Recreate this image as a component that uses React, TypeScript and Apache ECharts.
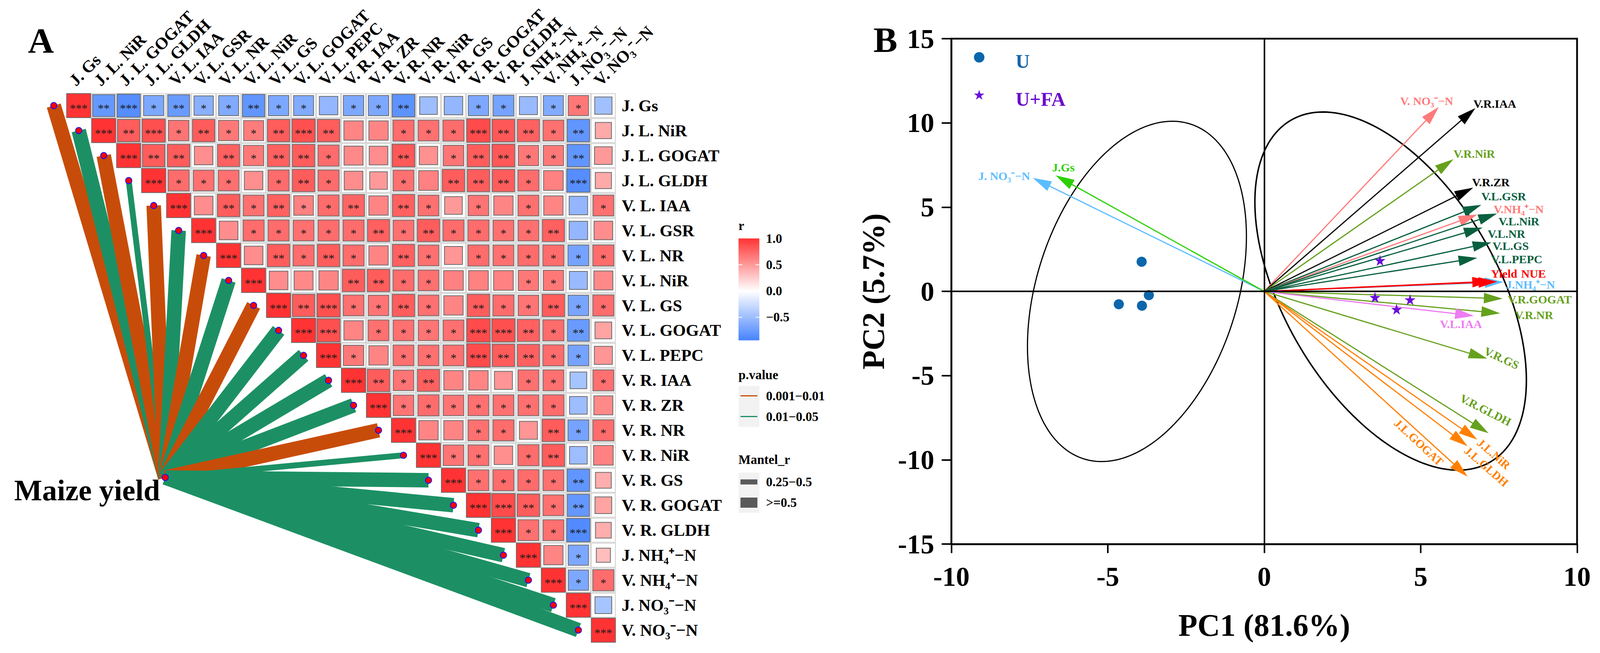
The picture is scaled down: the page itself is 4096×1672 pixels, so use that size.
import React, { useEffect, useRef } from 'react';
import * as echarts from 'echarts';

const SERIF = "'Liberation Serif', 'Times New Roman', Times, serif";

// ---------------- Panel A data ----------------
const VARS = [
  'J. Gs', 'J. L. NiR', 'J. L. GOGAT', 'J. L. GLDH', 'V. L. IAA', 'V. L. GSR', 'V. L. NR', 'V. L. NiR',
  'V. L. GS', 'V. L. GOGAT', 'V. L. PEPC', 'V. R. IAA', 'V. R. ZR', 'V. R. NR', 'V. R. NiR', 'V. R. GS',
  'V. R. GOGAT', 'V. R. GLDH', 'J. NH₄⁺−N', 'V. NH₄⁺−N', 'J. NO₃⁻−N', 'V. NO₃⁻−N',
];

// Pearson r of each row, from its diagonal cell to the last column
const CORR_R: number[][] = [
  [1, -0.78, -0.86, -0.66, -0.76, -0.6, -0.64, -0.8, -0.66, -0.64, -0.55, -0.66, -0.66, -0.82, -0.5, -0.55, -0.66, -0.7, -0.52, -0.64, 0.66, -0.48],
  [1, 0.8, 0.86, 0.68, 0.8, 0.66, 0.64, 0.8, 0.86, 0.8, 0.6, 0.6, 0.72, 0.7, 0.72, 0.88, 0.82, 0.78, 0.7, -0.8, 0.42],
  [1, 0.8, 0.8, 0.55, 0.78, 0.66, 0.78, 0.8, 0.72, 0.58, 0.56, 0.82, 0.54, 0.68, 0.8, 0.82, 0.66, 0.66, -0.8, 0.5],
  [1, 0.72, 0.7, 0.7, 0.55, 0.72, 0.8, 0.72, 0.56, 0.5, 0.7, 0.62, 0.8, 0.8, 0.8, 0.72, 0.62, -0.86, 0.42],
  [1, 0.56, 0.8, 0.7, 0.78, 0.62, 0.72, 0.76, 0.6, 0.78, 0.7, 0.5, 0.68, 0.6, 0.7, 0.6, -0.55, 0.7],
  [1, 0.56, 0.72, 0.72, 0.7, 0.72, 0.72, 0.78, 0.7, 0.8, 0.72, 0.72, 0.7, 0.7, 0.78, -0.55, 0.56],
  [1, 0.56, 0.8, 0.72, 0.8, 0.72, 0.6, 0.78, 0.7, 0.52, 0.72, 0.7, 0.72, 0.72, -0.7, 0.72],
  [1, 0.56, 0.58, 0.6, 0.8, 0.8, 0.72, 0.7, 0.62, 0.62, 0.62, 0.66, 0.66, -0.52, 0.58],
  [1, 0.8, 0.86, 0.7, 0.68, 0.8, 0.7, 0.6, 0.8, 0.72, 0.68, 0.8, -0.68, 0.72],
  [1, 0.86, 0.6, 0.7, 0.7, 0.68, 0.7, 0.88, 0.86, 0.78, 0.72, -0.76, 0.45],
  [1, 0.66, 0.6, 0.7, 0.7, 0.7, 0.88, 0.8, 0.78, 0.72, -0.7, 0.52],
  [1, 0.8, 0.68, 0.78, 0.6, 0.6, 0.52, 0.7, 0.7, -0.45, 0.7],
  [1, 0.68, 0.72, 0.68, 0.7, 0.7, 0.7, 0.72, -0.5, 0.58],
  [1, 0.6, 0.6, 0.7, 0.72, 0.52, 0.8, -0.7, 0.72],
  [1, 0.68, 0.7, 0.55, 0.72, 0.8, -0.5, 0.62],
  [1, 0.7, 0.72, 0.72, 0.7, -0.8, 0.4],
  [1, 0.88, 0.8, 0.7, -0.78, 0.45],
  [1, 0.7, 0.7, -0.88, 0.4],
  [1, 0.6, -0.66, 0.32],
  [1, -0.66, 0.72],
  [1, -0.45],
  [1],
];

// number of significance stars, same layout as CORR_R
const CORR_STARS: number[][] = [
  [3, 2, 3, 1, 2, 1, 1, 2, 1, 1, 0, 1, 1, 2, 0, 0, 1, 1, 0, 1, 1, 0],
  [3, 2, 3, 1, 2, 1, 1, 2, 3, 2, 0, 0, 1, 1, 1, 3, 2, 2, 1, 2, 0],
  [3, 2, 2, 0, 2, 1, 2, 2, 1, 0, 0, 2, 0, 1, 2, 2, 1, 1, 2, 0],
  [3, 1, 1, 1, 0, 1, 2, 1, 0, 0, 1, 0, 2, 2, 2, 1, 0, 3, 0],
  [3, 0, 2, 1, 2, 1, 1, 2, 0, 2, 1, 0, 1, 0, 1, 0, 0, 1],
  [3, 0, 1, 1, 1, 1, 1, 2, 1, 2, 1, 1, 1, 1, 2, 0, 0],
  [3, 0, 2, 1, 2, 1, 0, 2, 1, 0, 1, 1, 1, 1, 1, 1],
  [3, 0, 0, 0, 2, 2, 1, 1, 0, 0, 0, 1, 1, 0, 0],
  [3, 2, 3, 1, 1, 2, 1, 0, 2, 1, 1, 2, 1, 1],
  [3, 3, 0, 1, 1, 1, 1, 3, 3, 2, 1, 2, 0],
  [3, 1, 0, 1, 1, 1, 3, 2, 2, 1, 1, 0],
  [3, 2, 1, 2, 0, 0, 0, 1, 1, 0, 1],
  [3, 1, 1, 1, 1, 1, 1, 1, 0, 0],
  [3, 0, 0, 1, 1, 0, 2, 1, 1],
  [3, 1, 1, 0, 1, 2, 0, 0],
  [3, 1, 1, 1, 1, 2, 0],
  [3, 3, 2, 1, 2, 0],
  [3, 1, 1, 3, 0],
  [3, 0, 1, 0],
  [3, 1, 1],
  [3, 0],
  [3],
];

// Mantel test of maize yield against each variable
const P_LEVELS = ['0.001−0.01', '0.01−0.05'];
const SIZE_LEVELS = ['0.25−0.5', '>=0.5'];
const MANTEL_P = [
  '0.001−0.01', '0.01−0.05', '0.001−0.01', '0.01−0.05', '0.001−0.01', '0.01−0.05', '0.001−0.01', '0.01−0.05',
  '0.001−0.01', '0.01−0.05', '0.01−0.05', '0.01−0.05', '0.01−0.05', '0.001−0.01', '0.01−0.05', '0.01−0.05',
  '0.01−0.05', '0.01−0.05', '0.01−0.05', '0.01−0.05', '0.01−0.05', '0.01−0.05',
];
const MANTEL_SIZE = [
  '>=0.5', '>=0.5', '>=0.5', '0.25−0.5', '>=0.5', '>=0.5', '>=0.5', '>=0.5',
  '>=0.5', '>=0.5', '>=0.5', '>=0.5', '>=0.5', '>=0.5', '0.25−0.5', '>=0.5',
  '>=0.5', '>=0.5', '>=0.5', '>=0.5', '>=0.5', '>=0.5',
];
const R_TICKS = [1.0, 0.5, 0.0, -0.5];
const R_TICK_LABELS = ['1.0', '0.5', '0.0', '−0.5'];

// ---------------- Panel B data ----------------
const GROUPS = ['U', 'U+FA'];
const U_PC1 = [-3.92, -4.65, -3.91, -3.69];
const U_PC2 = [1.76, -0.76, -0.85, -0.22];
const UFA_PC1 = [3.7, 3.54, 4.66, 4.23];
const UFA_PC2 = [1.84, -0.35, -0.49, -1.06];

const LOAD_NAMES = [
  'J. NO₃⁻−N', 'J.Gs', 'V. NO₃⁻−N', 'V.R.IAA', 'V.R.NiR', 'V.R.ZR', 'V.L.GSR', 'V.NH₄⁺−N',
  'V.L.NiR', 'V.L.NR', 'V.L.GS', 'V.L.PEPC', 'J.NH₄⁺−N', 'Yield', 'NUE', 'V.R.GOGAT',
  'V.R.NR', 'V.L.IAA', 'V.R.GS', 'V.R.GLDH', 'J.L.NiR', 'J.L.GLDH', 'J.L.GOGAT',
];
const LOAD_PC1 = [-7.4, -6.67, 5.58, 6.75, 6.05, 6.68, 6.94, 6.81, 7.44, 6.98, 7.26, 6.81, 7.65, 7.25, 7.45, 7.62, 7.54, 6.7, 7.13, 7.17, 6.81, 6.5, 6.5];
const LOAD_PC2 = [6.74, 6.89, 10.95, 10.88, 7.85, 6.16, 5.14, 4.56, 4.62, 3.79, 2.9, 1.99, 0.56, 0.6, 0.58, -0.43, -1.3, -1.45, -3.99, -8.42, -8.8, -9.19, -10.99];

// confidence ellipses: centre (x, y), then x = cx + a1 cos t + b1 sin t, y = cy + a2 cos t + b2 sin t
const ELLIPSE_CENTER = [[-4.07, 0.0], [4.04, 0.02]];
const ELLIPSE_AXES = [[3.5, 3.26, 0, 9.56], [4.34, -5.29, 0, 9.22]];

// ---------------- styles / layout ----------------
const P_COLORS = ['#C84C09', '#1C9064'];
const SIZE_WIDTHS = [15, 37];
const GROUP_COLORS = ['#0B66AC', '#6A0DD8'];
const GROUP_TEXT_COLORS = ['#1565A8', '#6A0DD0'];
const LOAD_COLORS = [
  '#5BBDFF', '#2BD000', '#FF7A7A', '#000000', '#66A11E', '#000000', '#08603F', '#FF7A7A',
  '#08603F', '#08603F', '#08603F', '#08603F', '#5BBDFF', '#FF0000', '#FF0000', '#66A11E',
  '#66A11E', '#EE7CF2', '#66A11E', '#66A11E', '#FF8000', '#FF8000', '#FF8000',
];
const LOAD_LABEL_LAYOUT: { dx: number; dy: number; align: string; rot?: number }[] = [
  { dx: -7, dy: -5, align: 'right' },
  { dx: -9, dy: -20, align: 'left' },
  { dx: -31, dy: -15, align: 'center' },
  { dx: -5, dy: -11, align: 'left' },
  { dx: 0, dy: -14.5, align: 'left' },
  { dx: -3, dy: -14, align: 'left' },
  { dx: 0, dy: -22, align: 'left' },
  { dx: 42, dy: -13.5, align: 'left' },
  { dx: 4, dy: 19.6, align: 'left' },
  { dx: 13, dy: 16, align: 'left' },
  { dx: 3, dy: 8.5, align: 'left' },
  { dx: 35.5, dy: 3, align: 'left' },
  { dx: 6.5, dy: 6.5, align: 'left' },
  { dx: 0, dy: -19.6, align: 'left' },
  { dx: 61, dy: -20.6, align: 'left' },
  { dx: 13, dy: 2.3, align: 'left' },
  { dx: 38, dy: 4.7, align: 'left' },
  { dx: -33, dy: 20.6, align: 'center' },
  { dx: -6, dy: -21.5, align: 'left', rot: -25 },
  { dx: -71, dy: -92, align: 'left', rot: -27 },
  { dx: 4, dy: 3, align: 'left', rot: -41 },
  { dx: -4, dy: 6.5, align: 'left', rot: -41 },
  { dx: -183, dy: -142, align: 'left', rot: -43 },
];

const A_GRID = { left: 169.6, top: 238.4, width: 1407, height: 1407 };
const B_GRID = { left: 2435.7, top: 99.1, width: 1601.6, height: 1294.1 };
const MANTEL_NODE = [3.46, 14.89];
const STAR_D = 'M50,0 L61.2,34.5 L97.6,34.5 L68.2,55.9 L79.4,90.5 L50,69.1 L20.6,90.5 L31.8,55.9 L2.4,34.5 L38.8,34.5 Z';
const STAR = 'path://' + STAR_D;
const HEAD_LEN = 48;
const HEAD_W = 27;
const LABEL_SIZE = 43;

echarts.graphic.registerShape('star5', echarts.graphic.extendPath(STAR_D, {}) as any);

const txt = (text: string, x: number, y: number, size: number, extra: any = {}) => ({
  type: 'text',
  x,
  y,
  silent: true,
  style: {
    text,
    fill: extra.fill || '#000',
    fontSize: size,
    fontFamily: SERIF,
    fontWeight: extra.weight || 'bold',
    align: extra.align || 'left',
    verticalAlign: 'middle',
  },
});

function buildOption() {
  const cellData: number[][] = [];
  CORR_R.forEach((row, i) => row.forEach((v, k) => cellData.push([i + k, i, v, CORR_STARS[i][k]])));
  const linkData = MANTEL_P.map((p, i) => [i - 1, i, P_LEVELS.indexOf(p), SIZE_LEVELS.indexOf(MANTEL_SIZE[i])]);
  const dotData = [...VARS.map((_, i) => [i - 1, i]), MANTEL_NODE];
  const colLabelData = VARS.map((_, i) => [i, -0.5]);

  // colour-bar legend
  const LEG_X = 1890.6;
  const LEG_W = 53.3;
  const LEG_TXT_X = 1961;
  const CB_TOP = 610.6;
  const CB_H = 261;
  const CB_MIN = -0.94;
  const CB_MAX = 1;
  const cbY = (v: number) => CB_TOP + ((CB_MAX - v) / (CB_MAX - CB_MIN)) * CB_H;
  const zeroOff = (CB_MAX - 0) / (CB_MAX - CB_MIN);

  const graphics: any[] = [
    txt('A', 71.5, 104, 92),
    txt('B', 2236, 102, 92),
    txt('r', LEG_X, 578, 33),
    {
      type: 'rect',
      silent: true,
      shape: { x: LEG_X, y: CB_TOP, width: LEG_W, height: CB_H },
      style: {
        fill: new echarts.graphic.LinearGradient(0, 0, 0, 1, [
          { offset: 0, color: '#FF3333' },
          { offset: zeroOff, color: '#FFFFFF' },
          { offset: 1, color: '#4683FF' },
        ]),
      },
    },
  ];
  R_TICKS.forEach((v, i) => {
    const y = cbY(v);
    graphics.push(txt(R_TICK_LABELS[i], LEG_TXT_X, y, 33));
    if (i > 0) {
      graphics.push({ type: 'line', silent: true, shape: { x1: LEG_X, y1: y, x2: LEG_X + 10, y2: y }, style: { stroke: '#fff', lineWidth: 2 } });
      graphics.push({ type: 'line', silent: true, shape: { x1: LEG_X + LEG_W - 10, y1: y, x2: LEG_X + LEG_W, y2: y }, style: { stroke: '#fff', lineWidth: 2 } });
    }
  });
  graphics.push(txt('p.value', LEG_X, 960, 33));
  graphics.push({ type: 'rect', silent: true, shape: { x: LEG_X, y: 988, width: LEG_W, height: 105 }, style: { fill: '#F2F2F2' } });
  P_LEVELS.forEach((p, i) => {
    const y = 1013.5 + i * 53.1;
    graphics.push({ type: 'line', silent: true, shape: { x1: LEG_X + 5, y1: y, x2: LEG_X + LEG_W - 5, y2: y }, style: { stroke: P_COLORS[i], lineWidth: 3 } });
    graphics.push(txt(p, LEG_TXT_X, y, 33));
  });
  graphics.push(txt('Mantel_r', LEG_X, 1177, 33));
  graphics.push({ type: 'rect', silent: true, shape: { x: LEG_X, y: 1210, width: LEG_W, height: 103 }, style: { fill: '#F2F2F2' } });
  SIZE_LEVELS.forEach((s, i) => {
    const y = 1234 + i * 53;
    const h = i === 0 ? 13 : 26;
    graphics.push({ type: 'rect', silent: true, shape: { x: LEG_X + 5, y: y - h / 2, width: LEG_W - 10, height: h }, style: { fill: '#595959' } });
    graphics.push(txt(s, LEG_TXT_X, y, 33));
  });

  // group legend of panel B
  const GL_X = 2506.7;
  const GL_Y = [146.8, 244];
  const GL_TXT_X = 2600;
  graphics.push({ type: 'circle', silent: true, shape: { cx: GL_X, cy: GL_Y[0], r: 13.5 }, style: { fill: GROUP_COLORS[0] } });
  graphics.push({ type: 'star5', silent: true, x: GL_X - 14, y: GL_Y[1] - 14, scaleX: 0.28, scaleY: 0.28, style: { fill: GROUP_COLORS[1] } });
  GROUPS.forEach((g, i) => graphics.push(txt(g, GL_TXT_X, GL_Y[i] + 10, 50, { fill: GROUP_TEXT_COLORS[i] })));

  const axisFont = { fontFamily: SERIF, fontWeight: 'bold', color: '#000' };

  return {
    animation: false,
    backgroundColor: '#ffffff',
    grid: [
      { ...A_GRID, containLabel: false, outerBoundsMode: 'none' },
      { ...A_GRID, containLabel: false, outerBoundsMode: 'none' },
      { ...B_GRID, containLabel: false, outerBoundsMode: 'none', show: true, borderColor: '#000', borderWidth: 4.5, backgroundColor: 'transparent' },
    ],
    xAxis: [
      {
        type: 'category', gridIndex: 0, data: VARS, position: 'top',
        axisLine: { show: false }, axisTick: { show: false }, splitLine: { show: false }, axisLabel: { show: false },
      },
      { type: 'value', gridIndex: 1, min: -0.5, max: 21.5, show: false },
      {
        type: 'value', gridIndex: 2, min: -10, max: 10, interval: 5,
        axisLine: { show: true, onZero: false, lineStyle: { color: '#000', width: 4.5 } },
        axisTick: { show: true, inside: false, length: 23, lineStyle: { color: '#000', width: 4 } },
        axisLabel: { ...axisFont, fontSize: 70, margin: 48 },
        splitLine: { show: false },
        name: 'PC1 (81.6%)', nameLocation: 'middle', nameGap: 168,
        nameTextStyle: { ...axisFont, fontSize: 80 },
      },
    ],
    yAxis: [
      {
        type: 'category', gridIndex: 0, data: VARS, inverse: true, position: 'right',
        axisLine: { show: false }, axisTick: { show: false }, splitLine: { show: false },
        axisLabel: { ...axisFont, fontSize: LABEL_SIZE, interval: 0, margin: 15, align: 'left' },
      },
      { type: 'value', gridIndex: 1, min: -0.5, max: 21.5, inverse: true, show: false },
      {
        type: 'value', gridIndex: 2, min: -15, max: 15, interval: 5,
        axisLine: { show: true, onZero: false, lineStyle: { color: '#000', width: 4.5 } },
        axisTick: { show: true, inside: false, length: 25, lineStyle: { color: '#000', width: 4 } },
        axisLabel: { ...axisFont, fontSize: 70, margin: 44 },
        splitLine: { show: false },
        name: 'PC2 (5.7%)', nameLocation: 'middle', nameGap: 160,
        nameTextStyle: { ...axisFont, fontSize: 80 },
      },
    ],
    visualMap: {
      type: 'continuous', show: false, min: -1, max: 1, dimension: 2, seriesIndex: 1,
      inRange: { color: ['#3A7BFF', '#FFFFFF', '#FF3333'] },
    },
    graphic: { elements: graphics },
    series: [
      {
        type: 'custom', name: 'mantel', xAxisIndex: 1, yAxisIndex: 1, z: 1, silent: true, clip: false,
        data: linkData,
        renderItem: (params: any, api: any) => {
          const s = api.coord(MANTEL_NODE);
          const e = api.coord([api.value(0), api.value(1)]);
          return {
            type: 'line',
            shape: { x1: s[0], y1: s[1], x2: e[0], y2: e[1] },
            style: { stroke: P_COLORS[api.value(2)], lineWidth: SIZE_WIDTHS[api.value(3)], lineCap: 'butt' },
          };
        },
      },
      {
        type: 'custom', name: 'corr', xAxisIndex: 1, yAxisIndex: 1, z: 2, silent: true, clip: false,
        data: cellData,
        renderItem: (params: any, api: any) => {
          const c = api.value(0);
          const r = api.value(1);
          const v = api.value(2);
          const n = api.value(3);
          const p = api.coord([c, r]);
          const sz = api.size([1, 1]);
          const w = sz[0];
          const h = sz[1];
          const f = Math.sqrt(Math.abs(v));
          const children: any[] = [];
          if (c !== r) {
            children.push({
              type: 'rect',
              shape: { x: p[0] - w / 2 + 1.2, y: p[1] - h / 2 + 1.2, width: w - 2.4, height: h - 2.4 },
              style: { fill: '#FFFFFF', stroke: '#D6D6D6', lineWidth: 2.4 },
            });
          }
          const sw = w * f - (c === r ? 2 : 0);
          const sh = h * f - (c === r ? 2 : 0);
          children.push({
            type: 'rect',
            shape: { x: p[0] - sw / 2, y: p[1] - sh / 2, width: sw, height: sh },
            style: { fill: api.visual('color'), stroke: '#6B6B6B', lineWidth: 2 },
          });
          if (n > 0) {
            children.push({
              type: 'text', x: p[0], y: p[1] + 6,
              style: { text: '*'.repeat(n), fill: '#1A1A1A', fontSize: 30, fontFamily: SERIF, align: 'center', verticalAlign: 'middle' },
            });
          }
          return { type: 'group', children };
        },
      },
      {
        type: 'custom', name: 'columns', xAxisIndex: 1, yAxisIndex: 1, z: 2, silent: true, clip: false,
        data: colLabelData,
        renderItem: (params: any, api: any) => {
          const p = api.coord([api.value(0), api.value(1)]);
          return {
            type: 'text', x: p[0] - 2, y: p[1] - 11, rotation: Math.PI / 4,
            style: { text: VARS[params.dataIndex], fill: '#000', fontSize: LABEL_SIZE, fontFamily: SERIF, fontWeight: 'bold', align: 'left', verticalAlign: 'bottom' },
          };
        },
      },
      {
        type: 'scatter', name: 'dots', xAxisIndex: 1, yAxisIndex: 1, z: 3, silent: true, clip: false,
        data: dotData, symbol: 'circle', symbolSize: 16,
        itemStyle: { color: '#FF0000', borderColor: '#1010FF', borderWidth: 2, opacity: 1 },
      },
      {
        type: 'custom', name: 'node', xAxisIndex: 1, yAxisIndex: 1, z: 3, silent: true, clip: false,
        data: [MANTEL_NODE],
        renderItem: (params: any, api: any) => {
          const p = api.coord([api.value(0), api.value(1)]);
          return {
            type: 'text', x: p[0] - 13, y: p[1] + 32,
            style: { text: 'Maize yield', fill: '#000', fontSize: 76, fontFamily: SERIF, fontWeight: 'bold', align: 'right', verticalAlign: 'middle' },
          };
        },
      },
      {
        type: 'custom', name: 'ellipse', xAxisIndex: 2, yAxisIndex: 2, z: 2, silent: true, clip: false,
        data: ELLIPSE_CENTER.map((c, i) => [c[0], c[1], i]),
        renderItem: (params: any, api: any) => {
          const i = api.value(2);
          const cx = api.value(0);
          const cy = api.value(1);
          const [a1, a2, b1, b2] = ELLIPSE_AXES[i];
          const pts: number[][] = [];
          for (let k = 0; k <= 180; k++) {
            const t = (k / 180) * Math.PI * 2;
            pts.push(api.coord([cx + a1 * Math.cos(t) + b1 * Math.sin(t), cy + a2 * Math.cos(t) + b2 * Math.sin(t)]));
          }
          return { type: 'polyline', shape: { points: pts }, style: { stroke: '#000', lineWidth: i === 0 ? 3 : 3.8, fill: 'none' } };
        },
      },
      {
        type: 'custom', name: 'loadings', xAxisIndex: 2, yAxisIndex: 2, z: 3, silent: true, clip: false,
        data: LOAD_PC1.map((x, i) => [x, LOAD_PC2[i]]),
        renderItem: (params: any, api: any) => {
          const i = params.dataIndex;
          const o = api.coord([0, 0]);
          const t = api.coord([api.value(0), api.value(1)]);
          const dx = t[0] - o[0];
          const dy = t[1] - o[1];
          const len = Math.hypot(dx, dy);
          const ux = dx / len;
          const uy = dy / len;
          const bx = t[0] - ux * HEAD_LEN;
          const by = t[1] - uy * HEAD_LEN;
          const hw = HEAD_W / 2;
          const color = LOAD_COLORS[i];
          const lay = LOAD_LABEL_LAYOUT[i];
          return {
            type: 'group',
            children: [
              { type: 'line', shape: { x1: o[0], y1: o[1], x2: bx + ux * 4, y2: by + uy * 4 }, style: { stroke: color, lineWidth: 3 } },
              { type: 'polygon', shape: { points: [[t[0], t[1]], [bx - uy * hw, by + ux * hw], [bx + uy * hw, by - ux * hw]] }, style: { fill: color } },
              {
                type: 'text', x: t[0] + lay.dx, y: t[1] + lay.dy, rotation: ((lay.rot || 0) * Math.PI) / 180,
                style: { text: LOAD_NAMES[i], fill: color, fontSize: 30, fontFamily: SERIF, fontWeight: 'bold', align: lay.align, verticalAlign: 'middle' },
              },
            ],
          };
        },
      },
      {
        type: 'scatter', name: GROUPS[0], xAxisIndex: 2, yAxisIndex: 2, z: 4, silent: true,
        data: U_PC1.map((x, i) => [x, U_PC2[i]]), symbol: 'circle', symbolSize: 26,
        itemStyle: { color: GROUP_COLORS[0], opacity: 1 },
        markLine: {
          silent: true, symbol: ['none', 'none'], label: { show: false },
          lineStyle: { color: '#000', width: 4, type: 'solid' },
          data: [{ xAxis: 0 }, { yAxis: 0 }],
        },
      },
      {
        type: 'scatter', name: GROUPS[1], xAxisIndex: 2, yAxisIndex: 2, z: 4, silent: true,
        data: UFA_PC1.map((x, i) => [x, UFA_PC2[i]]), symbol: STAR, symbolSize: 28,
        itemStyle: { color: GROUP_COLORS[1], opacity: 1 },
      },
    ],
  };
}

export default function App() {
  const ref = useRef<HTMLDivElement>(null);
  useEffect(() => {
    const chart = echarts.init(ref.current as HTMLDivElement, null, { renderer: 'svg' });
    chart.setOption(buildOption() as any);
    return () => chart.dispose();
  }, []);
  return (
    <div
      ref={ref}
      style={{ position: 'fixed', left: 0, top: 0, width: '4096px', height: '1672px', background: '#ffffff' }}
    />
  );
}
